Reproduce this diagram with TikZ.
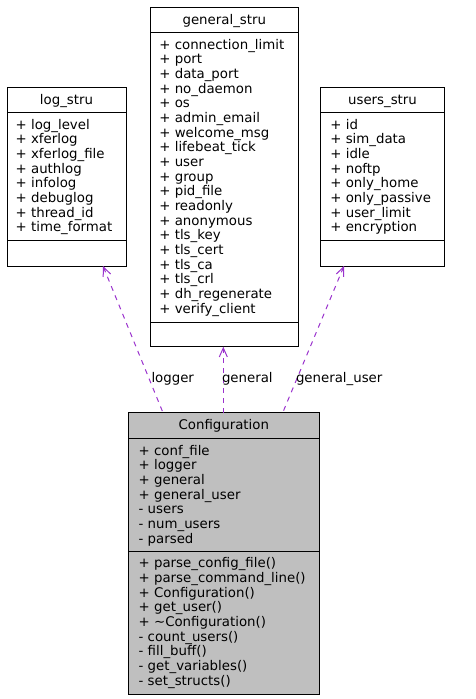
\documentclass[tikz,border=0pt]{standalone}
\usepackage{fontspec}
\setmainfont{DejaVu Sans}
\usetikzlibrary{arrows.meta}
\definecolor{depc}{HTML}{9A32CD}
\definecolor{cfgfill}{HTML}{BFBFBF}
\newcommand{\mystrut}{\rule{0pt}{11pt}}
\begin{document}
\begin{tikzpicture}[x=1pt,y=-1pt,
  every node/.style={inner sep=0pt, outer sep=0pt, font=\fontsize{13.33}{14.67}\selectfont},
  box/.style={draw=black, line width=1pt, anchor=north west},
  sep/.style={draw=black, line width=1pt},
  ttl/.style={anchor=base},
  members/.style={anchor=north west, align=left},
  dep/.style={draw=depc, line width=1pt, dash pattern=on 5pt off 5pt, arrows={Straight Barb[length=9pt,width=8pt]-}},
  lbl/.style={anchor=base west}]
\useasboundingbox (0,0) rectangle (475,699);
% boxes
\node[box, minimum width=119pt, minimum height=179pt] (log) at (7,87) {};
\node[box, minimum width=147.3pt, minimum height=339.4pt] (gen) at (150.7,7.3) {};
\node[box, minimum width=123.6pt, minimum height=178.7pt] (usr) at (320.7,87.3) {};
\node[box, fill=cfgfill, minimum width=191pt, minimum height=281.3pt] (cfg) at (128.3,412.7) {};
% separators
\draw[sep] (7,112.3) -- (126,112.3);
\draw[sep] (7,240.7) -- (126,240.7);
\draw[sep] (150.7,32.3) -- (298,32.3);
\draw[sep] (150.7,322.3) -- (298,322.3);
\draw[sep] (320.7,112.3) -- (444.3,112.3);
\draw[sep] (320.7,240.3) -- (444.3,240.3);
\draw[sep] (128.3,438.3) -- (319.3,438.3);
\draw[sep] (128.3,551) -- (319.3,551);
% titles
\node[ttl] (logt) at (66.5,104) {log\_stru};
\node[ttl] (gent) at (224.3,24.3) {general\_stru};
\node[ttl] (usrt) at (382.5,104.3) {users\_stru};
\node[ttl] (cfgt) at (223.8,429.7) {Configuration};
% members
\node[members] (logm) at (15.7,118) {\mystrut+ log\_level\\+ xferlog\\+ xferlog\_file\\+ authlog\\+ infolog\\+ debuglog\\+ thread\_id\\+ time\_format};
\node[members] (genm) at (159.4,38) {\mystrut+ connection\_limit\\+ port\\+ data\_port\\+ no\_daemon\\+ os\\+ admin\_email\\+ welcome\_msg\\+ lifebeat\_tick\\+ user\\+ group\\+ pid\_file\\+ readonly\\+ anonymous\\+ tls\_key\\+ tls\_cert\\+ tls\_ca\\+ tls\_crl\\+ dh\_regenerate\\+ verify\_client};
\node[members] (usrm) at (330.4,118) {\mystrut+ id\\+ sim\_data\\+ idle\\+ noftp\\+ only\_home\\+ only\_passive\\+ user\_limit\\+ encryption};
\node[members] (cfga) at (138.7,444) {\mystrut+ conf\_file\\+ logger\\+ general\\+ general\_user\\- users\\- num\_users\\- parsed};
\node[members] (cfgm) at (138.7,556.7) {\mystrut+ parse\_config\_file()\\+ parse\_command\_line()\\+ Configuration()\\+ get\_user()\\+ \textasciitilde Configuration()\\- count\_users()\\- fill\_buff()\\- get\_variables()\\- set\_structs()};
% connector end points
\coordinate (tlog) at ([xshift=96pt]log.south west);
\coordinate (tgen) at ([xshift=72.6pt]gen.south west);
\coordinate (tusr) at ([xshift=23.3pt]usr.south west);
\coordinate (clog) at ([xshift=34.7pt]cfg.north west);
\coordinate (cgen) at ([xshift=95pt]cfg.north west);
\coordinate (cusr) at ([xshift=154.4pt]cfg.north west);
\draw[dep] (tlog) -- (clog);
\draw[dep] (tgen) -- (cgen);
\draw[dep] (tusr) -- (cusr);
% labels
\node[lbl] (l1) at (151.5,382) {logger};
\node[lbl] (l2) at (222,382) {general};
\node[lbl] (l3) at (296,382) {general\_user};
\end{tikzpicture}
\end{document}
